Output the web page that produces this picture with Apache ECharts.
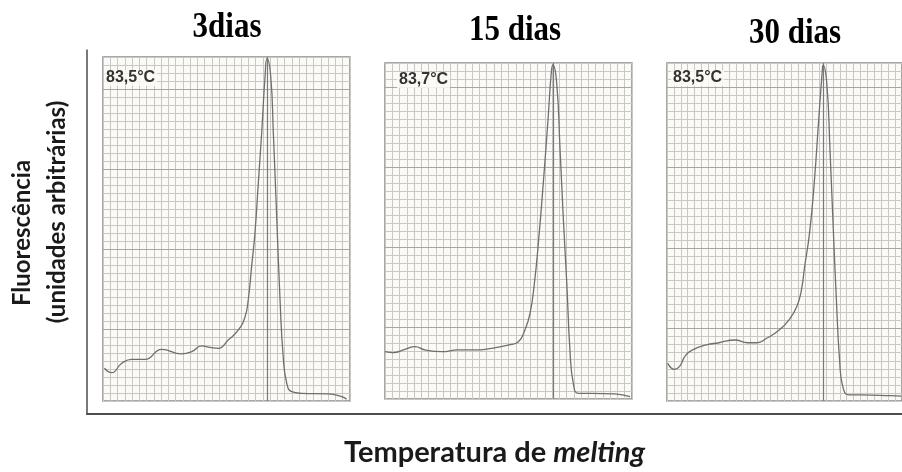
<!DOCTYPE html>
<html>
<head>
<meta charset="utf-8">
<script src="https://cdn.jsdelivr.net/npm/echarts@6/dist/echarts.min.js"></script>
<style>
  html, body { margin: 0; padding: 0; background: #ffffff; }
  #chart { width: 902px; height: 472px; }
</style>
</head>
<body>
<div id="chart"></div>
<script>
// Melting-curve panels: storage time, melting temperature and curves
const dayLabels = ['3dias', '15 dias', '30 dias'];
const tmValues = [83.5, 83.7, 83.5];
const tmLabels = ['83,5°C', '83,7°C', '83,5°C'];

// 3 dias
const temp3 = [75.27, 75.64, 76.15, 76.65, 77.33, 78.17, 79.18, 79.69, 80.19, 80.61, 81.03, 81.54, 82.05, 82.39,
  82.55, 82.72, 82.89, 83.06, 83.23, 83.40, 83.5, 83.69, 83.82, 83.99, 84.16, 84.32, 84.50, 84.75, 85.26, 86.60, 87.28, 87.53];
const fluor3 = [4.09, 3.54, 4.71, 5.21, 5.21, 6.46, 5.88, 6.16, 6.88, 6.71, 6.59, 7.63, 8.88, 10.54,
  12.63, 16.79, 21.0, 27.25, 33.5, 40.54, 42.84, 40.54, 33.5, 23.04, 12.63, 5.54, 2.21, 1.16, 0.96, 0.88, 0.54, 0.21];

// 15 dias
const temp15 = [75.2, 75.62, 76.21, 76.72, 77.22, 78.07, 78.91, 79.75, 80.60, 81.44, 81.95, 82.28, 82.54, 82.76,
  82.96, 83.21, 83.46, 83.62, 83.7, 83.89, 84.06, 84.22, 84.40, 84.56, 84.73, 84.98, 85.66, 86.84, 87.60];
const fluor15 = [5.91, 5.79, 6.21, 6.54, 6.13, 5.91, 6.13, 6.13, 6.34, 6.75, 7.16, 8.63, 10.71, 14.46,
  19.46, 26.96, 35.29, 40.9, 41.75, 39.46, 31.13, 22.79, 14.46, 6.13, 1.96, 0.71, 0.71, 0.63, 0.29];

// 30 dias
const temp30 = [75.24, 75.60, 75.86, 76.20, 76.62, 77.29, 77.97, 78.81, 79.49, 79.99, 80.50, 81.17, 81.68, 82.10,
  82.35, 82.52, 82.78, 83.03, 83.28, 83.45, 83.5, 83.70, 83.87, 84.04, 84.21, 84.38, 84.55, 84.88, 85.56, 87.08, 87.65];
const fluor30 = [4.68, 3.94, 4.26, 5.71, 6.42, 6.96, 7.24, 7.58, 7.24, 7.24, 7.79, 8.82, 10.06, 11.71,
  13.79, 16.68, 20.83, 27.04, 35.32, 40.71, 41.74, 39.47, 31.18, 21.65, 12.55, 5.09, 1.78, 0.75, 0.75, 0.66, 0.6];

const tempRange = [75.2, 87.7];
const gridColumns = 34;
const majorRows = [9, 19, 29, 39];

const curves = [[temp3, fluor3], [temp15, fluor15], [temp30, fluor30]];

// panel layout
const panels = [
  { left: 103, top: 57, width: 247, height: 344, rows: 43, titleX: 227, titleY: 28, labelX: 104, labelY: 70 },
  { left: 385, top: 63, width: 247, height: 336, rows: 42, titleX: 515, titleY: 31, labelX: 397, labelY: 72 },
  { left: 667, top: 63, width: 247, height: 338, rows: 42, titleX: 795, titleY: 34, labelX: 671, labelY: 70 }
];

const PANEL_BG = '#fcfaf6';
const MINOR = '#cac8c5';
const MAJOR = '#a8a6a3';
const CURVE = '#6f6f6f';
const TEXT = '#1a1a1a';

const grid = [{ left: 87, top: 50, right: 0, bottom: 55, show: false }];
const xAxis = [{
  gridIndex: 0, type: 'value', min: 0, max: 1,
  axisLine: { show: true, lineStyle: { color: '#4d4d4d', width: 2 } },
  axisTick: { show: false }, axisLabel: { show: false }, splitLine: { show: false },
  name: '{n|Temperatura de }{i|melting}',
  nameLocation: 'middle', nameGap: 24,
  nameTextStyle: {
    rich: {
      n: { fontFamily: 'Lato', fontWeight: 'bold', fontSize: 29, color: TEXT },
      i: { fontFamily: 'Lato', fontWeight: 'bold', fontStyle: 'italic', fontSize: 29, color: TEXT }
    }
  }
}];
const yAxis = [{
  gridIndex: 0, type: 'value', min: 0, max: 1,
  axisLine: { show: true, lineStyle: { color: '#4d4d4d', width: 1.5 } },
  axisTick: { show: false }, axisLabel: { show: false }, splitLine: { show: false }
}];
const series = [];
const title = [];
const graphic = [];

panels.forEach((p, i) => {
  const g = i + 1;
  grid.push({
    left: p.left, top: p.top, width: p.width, height: p.height,
    show: true, backgroundColor: PANEL_BG, borderColor: '#8a8a8a', borderWidth: 1.5
  });
  // graph-paper columns
  xAxis.push({
    gridIndex: g, type: 'value', min: 0, max: gridColumns, interval: 1,
    axisLine: { show: false }, axisTick: { show: false }, axisLabel: { show: false },
    splitLine: { show: true, lineStyle: { color: MINOR, width: 1 } }
  });
  // temperature scale for the curve
  const dataAxis = xAxis.length;
  xAxis.push({ gridIndex: g, type: 'value', min: tempRange[0], max: tempRange[1], show: false });
  const yIdx = yAxis.length;
  yAxis.push({
    gridIndex: g, type: 'value', min: 0, max: p.rows, interval: 1,
    axisLine: { show: false }, axisTick: { show: false }, axisLabel: { show: false },
    splitLine: { show: true, lineStyle: { color: MINOR, width: 1 } }
  });

  const [tArr, fArr] = curves[i];
  series.push({
    type: 'line',
    xAxisIndex: dataAxis, yAxisIndex: yIdx,
    data: tArr.map((t, k) => [t, fArr[k]]),
    showSymbol: false, smooth: 0.5,
    lineStyle: { color: CURVE, width: 1.3 },
    z: 5,
    markLine: {
      silent: true, symbol: 'none', label: { show: false },
      data: [
        ...majorRows.filter(r => r < p.rows).map(r => ({ yAxis: r, lineStyle: { color: MAJOR, width: 1, type: 'solid' } })),
        { xAxis: tmValues[i], lineStyle: { color: '#7a7a7a', width: 1.2, type: 'solid' } }
      ]
    }
  });

  // day heading, drawn slightly tall like a condensed display face
  graphic.push({
    type: 'text', x: p.titleX, y: p.titleY, scaleY: 1.18,
    style: { text: dayLabels[i], fontFamily: 'Liberation Serif', fontWeight: 'bold', fontSize: 31,
      fill: '#000', textAlign: 'center', textVerticalAlign: 'middle' }
  });
  title.push({
    text: tmLabels[i], left: p.labelX, top: p.labelY, padding: [0, 2],
    backgroundColor: 'rgba(252,250,246,0.85)',
    textStyle: { fontFamily: 'Liberation Sans', fontWeight: 'bold', fontSize: 16, color: '#333' }
  });
});

graphic.push(
  {
    type: 'text', x: 22, y: 233, rotation: Math.PI / 2,
    style: { text: 'Fluorescência', fontFamily: 'Lato', fontWeight: 'bold', fontSize: 24,
      fill: TEXT, textAlign: 'center', textVerticalAlign: 'middle' }
  },
  {
    type: 'text', x: 57, y: 212, rotation: Math.PI / 2,
    style: { text: '(unidades arbitrárias)', fontFamily: 'Lato', fontWeight: 'bold', fontSize: 24,
      fill: TEXT, textAlign: 'center', textVerticalAlign: 'middle' }
  }
);

const chart = echarts.init(document.getElementById('chart'), null, { renderer: 'canvas' });
chart.setOption({
  backgroundColor: '#ffffff',
  animation: false,
  title, grid, xAxis, yAxis, series, graphic
});
</script>
</body>
</html>
